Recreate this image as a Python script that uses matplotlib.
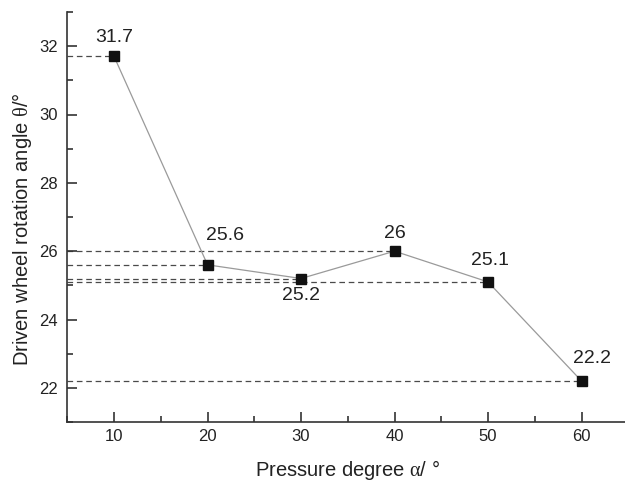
import matplotlib
matplotlib.use("Agg")
import matplotlib.pyplot as plt
from matplotlib.ticker import MultipleLocator

pressure_deg = [10, 20, 30, 40, 50, 60]
rotation_angle = [31.7, 25.6, 25.2, 26.0, 25.1, 22.2]
value_labels = ["31.7", "25.6", "25.2", "26", "25.1", "22.2"]
# label offsets in pixels (dx, dy)
label_offsets = [(0, 19), (17, 29), (0, -17), (0, 18), (2, 21), (10, 23)]

plt.rcParams["font.family"] = ["Liberation Sans", "DejaVu Sans"]
plt.rcParams["mathtext.fontset"] = "custom"
plt.rcParams["mathtext.rm"] = "Liberation Serif"
plt.rcParams["mathtext.it"] = "Liberation Serif"

txt = "#222222"
W, H = 625, 484
fig = plt.figure(figsize=(W / 100, H / 100), dpi=100)
# axes box in pixels: left spine x=67, bottom spine y=422, top y=12, 9.35 px per degree
ax = fig.add_axes([67.3 / W, 1 - 422 / H, 561 / W, 410 / H])

for x, y in zip(pressure_deg, rotation_angle):
    ax.plot([5, x], [y, y], ls=(0, (4.5, 3)), color="#4a4a4a", lw=0.9, zorder=1)

ax.plot(pressure_deg, rotation_angle, color="#9a9a9a", lw=0.9, zorder=2)
ax.plot(pressure_deg, rotation_angle, ls="none", marker="s", ms=6.8,
        color="#111111", markeredgecolor="#111111", zorder=3)

for x, y, lab, (dx, dy) in zip(pressure_deg, rotation_angle, value_labels, label_offsets):
    ax.annotate(lab, (x, y), xytext=(dx, dy), textcoords="offset pixels",
                ha="center", va="center", fontsize=14, color=txt)

ax.set_xlim(5, 65)
ax.set_ylim(21, 33)
ax.xaxis.set_major_locator(MultipleLocator(10))
ax.xaxis.set_minor_locator(MultipleLocator(5))
ax.yaxis.set_major_locator(MultipleLocator(2))
ax.yaxis.set_minor_locator(MultipleLocator(1))
ax.tick_params(which="both", direction="in", colors="#333333", width=1.2,
               labelcolor=txt, labelsize=12)
ax.tick_params(axis="x", pad=5)
ax.tick_params(axis="y", pad=7)
ax.tick_params(which="major", length=7)
ax.tick_params(which="minor", length=4)

for s in ["top", "right"]:
    ax.spines[s].set_visible(False)
for s in ["left", "bottom"]:
    ax.spines[s].set_linewidth(1.2)
    ax.spines[s].set_color("#333333")

ax.set_xlabel(r"Pressure degree $\mathrm{\alpha}$/ °", fontsize=14.5, color=txt)
ax.set_ylabel(r"Driven wheel rotation angle $\mathrm{\theta}$/°", fontsize=14.5, color=txt)
ax.xaxis.set_label_coords(0.5, -(470 - 422) / 410)
ax.yaxis.set_label_coords(-(67.3 - 22) / 561, 0.5 - (229 - 217) / 410)
ax.xaxis.label.set_va("center")
ax.yaxis.label.set_va("center")

fig.savefig("out.png", dpi=100)
